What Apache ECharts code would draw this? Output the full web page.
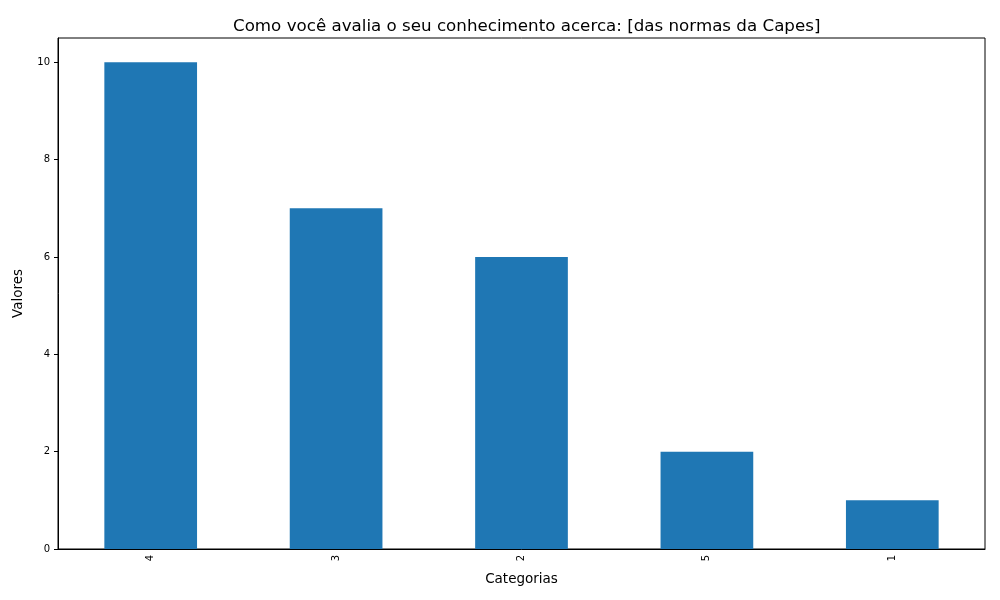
<!DOCTYPE html>
<html>
  <head>
    <meta charset="utf-8">
    <title>Conhecimento normas Capes</title>
    <script src="https://cdn.jsdelivr.net/npm/echarts@6/dist/echarts.min.js"></script>
  </head>
  <body style="margin:0">
    <div id="main" style="width:1000px;height:600px;"></div>
    <script type="text/javascript">
      // dados
      var categorias = ['4', '3', '2', '5', '1'];
      var valores = [10, 7, 6, 2, 1];
      var yTicks = [0, 2, 4, 6, 8, 10];

      var myChart = echarts.init(document.getElementById('main'));

      var fonte = 'DejaVu Sans';

      myChart.setOption({
        animation: false,
        textStyle: { fontFamily: fonte },
        title: {
          text: 'Como você avalia o seu conhecimento acerca: [das normas da Capes]',
          left: 228,
          top: 13,
          textStyle: { fontFamily: fonte, fontSize: 16.7, fontWeight: 'normal', color: '#000' }
        },
        grid: {
          left: 58, right: 15, top: 38, bottom: 51,
          show: true, borderColor: '#000', borderWidth: 1
        },
        xAxis: {
          type: 'category',
          data: categorias,
          name: 'Categorias',
          nameLocation: 'middle',
          nameGap: 23,
          nameTextStyle: { fontFamily: fonte, fontSize: 13.5, color: '#000' },
          axisLine: { lineStyle: { color: '#000' } },
          axisTick: { alignWithLabel: true, length: 4, lineStyle: { color: '#000' } },
          axisLabel: { rotate: 90, fontSize: 10, color: '#000', margin: 6, fontFamily: fonte }
        },
        yAxis: {
          type: 'value',
          min: 0,
          max: 10.5,
          interval: 2,
          name: 'Valores',
          nameLocation: 'middle',
          nameGap: 33,
          nameTextStyle: { fontFamily: fonte, fontSize: 13.5, color: '#000' },
          axisLine: { show: true, lineStyle: { color: '#000' } },
          axisTick: { show: true, length: 4, lineStyle: { color: '#000' }, customValues: yTicks },
          axisLabel: {
            fontSize: 10, color: '#000', margin: 8, fontFamily: fonte,
            customValues: yTicks
          },
          splitLine: { show: false }
        },
        series: [{
          name: 'Valores',
          type: 'bar',
          data: valores,
          barWidth: '50%',
          itemStyle: { color: '#1f77b4' }
        }]
      });
    </script>
  </body>
</html>
